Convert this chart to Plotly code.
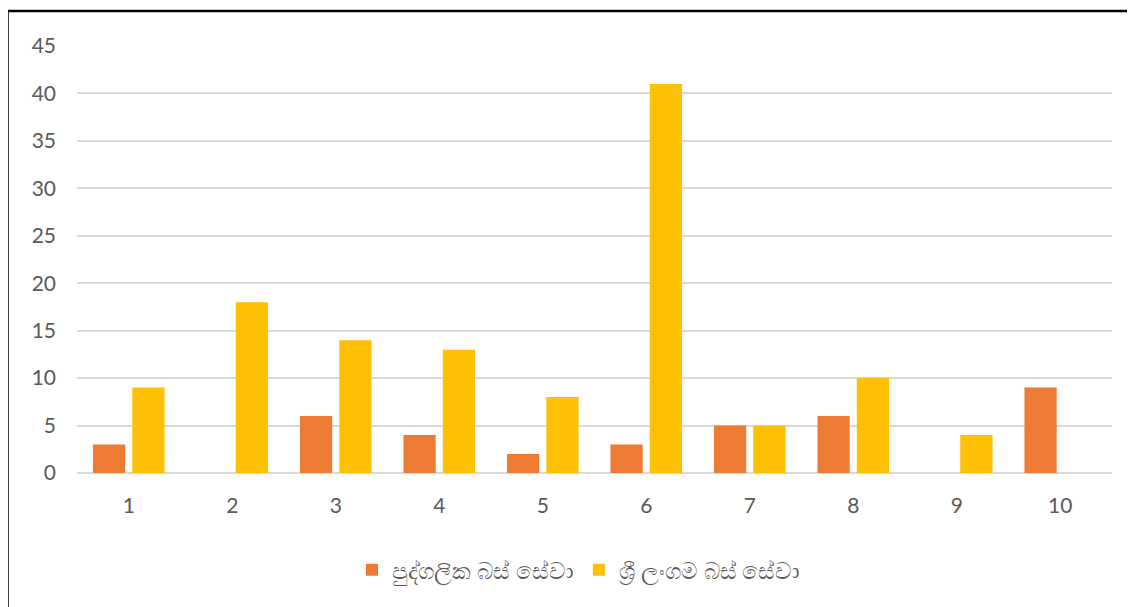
import plotly.graph_objects as go

categories = ["1", "2", "3", "4", "5", "6", "7", "8", "9", "10"]
private_bus = [3, 0, 6, 4, 2, 3, 5, 6, 0, 9]
sltb_bus = [9, 18, 14, 13, 8, 41, 5, 10, 4, 0]
series_names = ["පුද්ගලික බස් සේවා", "ශ්‍රී ලංගම බස් සේවා"]
y_ticks = [0, 5, 10, 15, 20, 25, 30, 35, 40, 45]

W, H = 1135, 607
OFF = 8  # page body margin
L, R, T, B = 77 - OFF, 23 + OFF, 45.5 - OFF, 134 + OFF
pw, ph = W - L - R, H - T - B

fig = go.Figure()
fig.add_trace(go.Bar(x=categories, y=private_bus, name=series_names[0],
                     marker=dict(color="#EE7B34", line=dict(width=0))))
fig.add_trace(go.Bar(x=categories, y=sltb_bus, name=series_names[1],
                     marker=dict(color="#FDC005", line=dict(width=0))))

def px_x(p):
    return (p - L) / pw

def px_y(p):
    return (H - B - p) / ph

fig.update_layout(
    width=W, height=H,
    margin=dict(l=L, r=R, t=T, b=B, autoexpand=False),
    paper_bgcolor="white", plot_bgcolor="white",
    barmode="group", bargap=0.24, bargroupgap=0.18,
    font=dict(family="Lato, Liberation Sans, sans-serif", size=21, color="#595959"),
    showlegend=True,
    legend=dict(orientation="h", x=px_x(579 - OFF), xanchor="center",
                y=px_y(570 - OFF), yanchor="middle",
                font=dict(size=23, color="#595959"),
                itemwidth=30, traceorder="normal"),
    xaxis=dict(type="category", showgrid=False, showline=False, zeroline=False,
               ticks="", ticklabelstandoff=18,
               tickfont=dict(size=21, color="#595959")),
    yaxis=dict(range=[0, 45], tickvals=y_ticks, showgrid=True,
               gridcolor="#D9D9D9", gridwidth=1.5, zeroline=True,
               zerolinecolor="#D9D9D9", zerolinewidth=1.5, showline=False,
               ticks="", ticklabelstandoff=20,
               tickfont=dict(size=21, color="#595959")),
    shapes=[
        dict(type="line", xref="paper", yref="paper",
             x0=px_x(-0.5), x1=px_x(-0.5), y0=px_y(H + 10), y1=px_y(2.5),
             line=dict(color="black", width=2.5)),
        dict(type="line", xref="paper", yref="paper",
             x0=px_x(-0.5), x1=px_x(W + 10), y0=px_y(2.5), y1=px_y(2.5),
             line=dict(color="black", width=2.5)),
    ],
)

fig.write_html("out.html")
